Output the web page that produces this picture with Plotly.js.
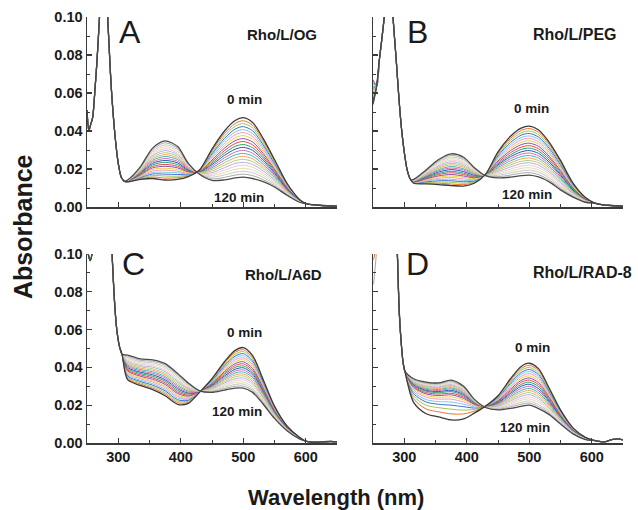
<!DOCTYPE html>
<html><head><meta charset="utf-8">
<script src="https://cdn.plot.ly/plotly-3.0.1.min.js"></script>
<style>html,body{margin:0;padding:0;background:#fff}#chart{width:638px;height:510px}</style>
</head><body><div id="chart"></div>
<script>
// ---- data (absorbance; variable-region tables are in units of 1e-4, one row per wavelength, one column per time) ----
const times = [0,6,12,18,24,30,36,42,48,54,60,66,72,78,84,90,96,102,108,114,120];
const wlVar = [315,335,355,375,395,412,430,450,470,487,500,515,532,550,570,590];

// Panel A  Rho/L/OG
const preWlA  = [250,253,256,259,263,266,270,276,283,289,295,300,305,310];
const preAbsA = [0.051,0.0405,0.0435,0.047,0.063,0.077,0.100,0.140,0.100,0.062,0.037,0.023,0.0155,0.0135];
const colsA = [
[132,133,133,134,134,135,135,136,136,137,137,138,138,139,139,140,140,141,141,142,142],
[145,148,152,155,158,161,165,168,171,174,178,181,184,187,191,194,197,200,204,207,210],
[150,158,166,174,182,190,198,206,214,222,230,238,246,254,262,270,278,286,294,302,310],
[142,152,163,173,183,194,204,214,224,235,245,255,266,276,286,297,307,317,327,338,348],
[145,154,162,171,180,188,197,206,214,223,232,240,249,257,266,275,283,292,301,309,318],
[160,164,167,171,174,178,181,185,188,192,195,199,202,206,209,213,216,220,223,227,230],
[195,194,193,192,190,189,188,187,186,185,184,182,181,180,179,178,177,175,174,173,172],
[305,297,289,280,272,264,256,247,239,231,223,214,206,198,190,181,173,165,157,148,140],
[400,387,374,361,349,336,323,310,297,284,272,259,246,233,220,207,194,182,169,156,143],
[455,440,425,410,395,380,364,349,334,319,304,289,274,259,244,229,213,198,183,168,153],
[470,454,439,423,407,392,376,360,345,329,314,298,282,267,251,235,220,204,188,173,157],
[445,430,416,401,386,371,357,342,327,312,298,283,268,253,239,224,209,194,180,165,150],
[360,349,337,326,315,303,292,281,269,258,247,235,224,212,201,190,178,167,156,144,133],
[250,243,236,228,221,214,207,199,192,185,178,170,163,156,149,141,134,127,120,112,105],
[125,122,119,116,112,109,106,103,100,97,94,90,87,84,81,78,75,71,68,65,62],
[40,39,39,38,37,36,36,35,34,33,33,32,31,30,30,29,28,27,27,26,25]];
const postWlA  = [600,610,625,650];
const postAbsA = [0.0018,0.0012,0.0008,0.0005];

// Panel B  Rho/L/PEG
const startB  = [0.054,0.066,0.062,0.058,0.064,0.060,0.056,0.067,0.059,0.061,0.063,0.057,0.065,0.060,0.058,0.062,0.064,0.059,0.061,0.063,0.055];
const preWlB  = [256,260,264,268,276,282,287,292,296,300,305,310];
const preAbsB = [0.064,0.077,0.088,0.100,0.135,0.100,0.078,0.055,0.040,0.029,0.019,0.0145];
const colsB = [
[125,126,127,128,129,130,131,132,133,134,135,136,137,138,139,140,141,142,143,144,145],
[122,126,129,133,137,140,144,148,151,155,159,162,166,169,173,177,180,184,188,191,195],
[118,125,131,138,144,151,158,164,171,177,184,191,197,204,210,217,224,230,237,243,250],
[113,121,130,138,146,155,163,171,180,188,197,205,213,222,230,238,247,255,263,272,280],
[110,118,125,133,140,148,156,163,171,178,186,194,201,209,216,224,232,239,247,254,262],
[125,129,133,137,142,146,150,154,158,162,167,171,175,179,183,187,191,196,200,204,208],
[172,172,171,171,171,170,170,170,169,169,168,168,168,167,167,167,166,166,166,165,165],
[290,283,276,269,263,256,249,242,235,228,222,215,208,201,194,187,180,174,167,160,153],
[372,361,351,340,329,318,308,297,286,275,265,254,243,232,222,211,200,189,179,168,157],
[415,403,390,378,365,353,340,328,315,303,290,278,265,253,240,228,215,203,190,178,165],
[426,413,400,387,374,362,349,336,323,310,297,284,271,258,245,233,220,207,194,181,168],
[405,393,380,368,356,343,331,319,306,294,282,269,257,244,232,220,207,195,183,170,158],
[340,330,319,309,298,288,278,267,257,246,236,226,215,205,194,184,174,163,153,142,132],
[245,237,230,222,214,206,199,191,183,175,168,160,152,144,137,129,121,113,106,98,90],
[126,122,119,115,111,108,104,100,96,93,89,85,82,78,74,71,67,63,59,56,52],
[50,49,48,46,45,44,43,41,40,39,38,36,35,34,33,31,30,29,28,26,25]];
const postWlB  = [605,615,630,650];
const postAbsB = [0.0020,0.0013,0.0008,0.0005];

// Panel C  Rho/L/A6D
const preWlC  = [250,252,255,258,262,275,285,290,292,295,298,302,306];
const preAbsC = [0.104,0.100,0.0965,0.100,0.120,0.200,0.140,0.101,0.087,0.070,0.059,0.051,0.047];
const colsC = [
[335,342,348,355,361,368,374,381,387,394,400,407,413,420,426,433,439,446,452,459,465],
[305,312,319,326,333,340,347,354,361,368,375,382,389,396,403,410,417,424,431,438,445],
[282,290,298,306,314,322,329,337,345,353,361,369,377,385,393,401,408,416,424,432,440],
[250,259,267,276,284,293,301,310,318,327,335,344,352,361,369,378,386,395,403,412,420],
[205,213,221,229,238,246,254,262,270,278,287,295,303,311,319,327,335,344,352,360,368],
[210,215,221,226,232,237,242,248,253,259,264,269,275,280,286,291,296,302,307,313,318],
[268,268,269,269,270,270,270,271,271,272,272,272,273,273,274,274,274,275,275,276,276],
[340,336,333,329,326,322,318,315,311,308,304,300,297,293,290,286,282,279,275,272,268],
[430,423,415,408,400,393,385,378,370,363,355,348,340,333,325,318,310,303,295,288,280],
[490,480,470,460,450,440,430,420,410,400,390,380,370,360,350,340,330,320,310,300,290],
[505,494,484,473,462,451,441,430,419,408,398,387,376,365,355,344,333,322,312,301,290],
[462,452,443,433,423,414,404,394,384,375,365,355,346,336,326,317,307,297,287,278,268],
[335,329,322,316,309,303,296,290,283,277,270,264,257,251,244,238,231,225,218,212,205],
[195,192,189,185,182,179,176,172,169,166,163,159,156,153,150,146,143,140,137,133,130],
[90,89,88,86,85,84,83,81,80,79,78,76,75,74,73,71,70,69,68,66,65],
[30,30,29,29,28,28,28,27,27,26,26,26,25,25,24,24,24,23,23,22,22]];
const postWlC  = [600,612,625,640,650];
const postAbsC = [0.0010,0.0004,0.0006,0.0008,0.0006];

// Panel D  Rho/L/RAD-8
const startD  = [0.125,0.097,0.125,0.125,0.125,0.125,0.125,0.125,0.125,0.125,0.125,0.125,0.125,0.125,0.125,0.125,0.125,0.125,0.125,0.084,0.125];
const preWlD  = [258,265,275,284,289,292,295,298,301];
const preAbsD = [0.110,0.140,0.200,0.150,0.100,0.0695,0.0536,0.043,0.038];
const colsD = [
[215,234,249,261,271,280,288,294,299,304,308,312,316,319,323,326,329,332,334,337,340],
[155,180,200,217,230,242,252,260,267,274,279,284,289,294,299,303,307,311,315,318,322],
[138,165,187,205,219,232,242,251,259,266,272,278,283,288,293,297,302,306,310,314,318],
[122,154,179,200,217,232,244,255,263,272,279,286,292,298,304,309,314,319,324,328,333],
[128,154,174,192,205,217,228,236,243,250,256,261,266,272,276,280,285,289,292,296,300],
[158,169,178,185,191,197,201,205,208,211,213,215,218,220,222,224,225,227,229,230,232],
[195,195,194,194,194,193,193,193,192,192,192,191,191,190,190,190,189,189,189,188,188],
[250,246,243,239,235,231,228,224,220,216,213,209,205,201,198,194,190,186,183,179,175],
[340,332,324,316,309,301,293,285,277,269,262,254,246,238,230,222,214,207,199,191,183],
[405,394,384,373,363,352,342,331,321,310,300,289,278,268,257,247,236,226,215,205,194],
[422,411,400,389,378,367,355,344,333,322,311,300,289,278,267,256,244,233,222,211,200],
[392,382,371,361,350,340,329,319,308,298,287,277,266,256,245,235,224,214,203,193,182],
[290,283,276,269,262,255,248,241,234,227,220,213,206,199,192,185,178,171,164,157,150],
[175,171,168,164,160,156,153,149,145,141,138,134,130,126,123,119,115,111,108,104,100],
[80,78,77,75,74,72,70,69,67,66,64,62,61,59,58,56,54,53,51,50,48],
[30,29,29,28,28,27,26,26,25,25,24,23,23,22,22,21,20,20,19,19,18]];
const postWlD  = [605,620,632,642,650];
const postAbsD = [0.0013,0.0006,0.0018,0.0022,0.0016];

const curveColors = ['#3a3a3a','#f07030','#9cc850','#3f6fd0','#7fc8e8','#f59ab8','#e8d440','#8a4fb0','#e84848','#2fa070','#2858b0','#d66ab0','#40b8b8','#f2a860','#b0d080','#b8b0e0','#f0c8d8','#e0e0a8','#c8c8c8','#a8a8a8','#4a4a4a'];

const panels = [
  {xa:'x',  ya:'y',  start:null,   startWl:null, preWl:preWlA, preAbs:preAbsA, cols:colsA, postWl:postWlA, postAbs:postAbsA},
  {xa:'x2', ya:'y2', start:startB, startWl:250,  preWl:preWlB, preAbs:preAbsB, cols:colsB, postWl:postWlB, postAbs:postAbsB},
  {xa:'x3', ya:'y3', start:null,   startWl:null, preWl:preWlC, preAbs:preAbsC, cols:colsC, postWl:postWlC, postAbs:postAbsC},
  {xa:'x4', ya:'y4', start:startD, startWl:251,  preWl:preWlD, preAbs:preAbsD, cols:colsD, postWl:postWlD, postAbs:postAbsD}
];

const traces = [];
const order = [];
for (let k = 1; k < times.length - 1; k++) order.push(k);
order.push(0, times.length - 1);
panels.forEach(p => {
  order.forEach(k => {
    const x = [], y = [];
    if (p.start) { x.push(p.startWl); y.push(p.start[k]); }
    p.preWl.forEach((w, j) => { x.push(w); y.push(p.preAbs[j]); });
    wlVar.forEach((w, j) => { x.push(w); y.push(p.cols[j][k] / 10000); });
    p.postWl.forEach((w, j) => { x.push(w); y.push(p.postAbs[j]); });
    const edge = (k === 0 || k === times.length - 1);
    traces.push({
      type: 'scatter', mode: 'lines', x: x, y: y, xaxis: p.xa, yaxis: p.ya,
      name: times[k] + ' min', showlegend: false, hoverinfo: 'skip',
      line: {color: curveColors[k], width: edge ? 1.3 : 1, shape: 'spline', smoothing: 0.8}
    });
  });
});

const W = 638, H = 510;
const fx = v => v / W, fy = v => 1 - v / H;
const FONT = 'Liberation Sans, Arial, sans-serif';
const tickFont = {family: FONT, size: 14.5, color: '#1a1a1a', weight: 'bold'};

function xAxis(domain, anchor, labels) {
  return {domain: domain, anchor: anchor, range: [250, 650], tick0: 0, dtick: 100,
    showline: true, linecolor: '#3a3a3a', linewidth: 1.5, showgrid: false, zeroline: false,
    ticks: 'inside', ticklen: 5, tickwidth: 1.2, tickcolor: '#3a3a3a',
    minor: {ticks: 'inside', dtick: 50, tick0: 0, ticklen: 3, tickcolor: '#3a3a3a', tickwidth: 1},
    showticklabels: labels, tickfont: tickFont};
}
function yAxis(domain, anchor, labels) {
  return {domain: domain, anchor: anchor, range: [0, 0.1], tick0: 0, dtick: 0.02, tickformat: '.2f',
    showline: true, linecolor: '#3a3a3a', linewidth: 1.5, showgrid: false, zeroline: false,
    ticks: 'inside', ticklen: 5, tickwidth: 1.2, tickcolor: '#3a3a3a',
    minor: {ticks: 'inside', dtick: 0.01, tick0: 0, ticklen: 3, tickcolor: '#3a3a3a', tickwidth: 1},
    showticklabels: labels, tickfont: tickFont};
}

const xL = [fx(87), fx(337)], xR = [fx(373), fx(623)];
const yT = [fy(207), fy(17)], yB = [fy(443), fy(254)];

function ann(text, x, y, size, bold, anchor, extra) {
  return Object.assign({text: text, xref: 'paper', yref: 'paper', x: fx(x), y: fy(y),
    xanchor: anchor || 'center', yanchor: 'middle', showarrow: false,
    font: {family: FONT, size: size, color: '#1a1a1a', weight: bold ? 'bold' : 'normal'}}, extra || {});
}

const annotations = [
  ann('A', 130, 32, 32, false), ann('B', 417, 32, 32, false),
  ann('C', 133, 264, 32, false), ann('D', 417, 264, 32, false),
  ann('Rho/L/OG', 245, 35, 15, true, 'left'), ann('Rho/L/PEG', 531, 35, 16, true, 'left'),
  ann('Rho/L/A6D', 243, 274, 15, true, 'left'), ann('Rho/L/RAD-8', 531, 272, 16, true, 'left'),
  ann('0 min', 244, 100, 13.5, true), ann('120 min', 239, 198, 13.5, true),
  ann('0 min', 531, 108, 13.5, true), ann('120 min', 527, 194, 13.5, true),
  ann('0 min', 244, 332, 13.5, true), ann('120 min', 237, 411, 13.5, true),
  ann('0 min', 532, 347, 13.5, true), ann('120 min', 525, 427, 13.5, true),
  ann('Absorbance', 23, 227, 25, true, 'center', {textangle: -90}),
  ann('Wavelength (nm)', 336, 497, 22, true)
];

const layout = {
  width: W, height: H, margin: {l: 0, r: 0, t: 0, b: 0},
  paper_bgcolor: '#fff', plot_bgcolor: '#fff', showlegend: false,
  xaxis: xAxis(xL, 'y', false), yaxis: yAxis(yT, 'x', true),
  xaxis2: xAxis(xR, 'y2', false), yaxis2: yAxis(yT, 'x2', false),
  xaxis3: xAxis(xL, 'y3', true), yaxis3: yAxis(yB, 'x3', true),
  xaxis4: xAxis(xR, 'y4', true), yaxis4: yAxis(yB, 'x4', false),
  annotations: annotations
};

Plotly.newPlot('chart', traces, layout, {staticPlot: true, displayModeBar: false});
</script>
</body></html>
